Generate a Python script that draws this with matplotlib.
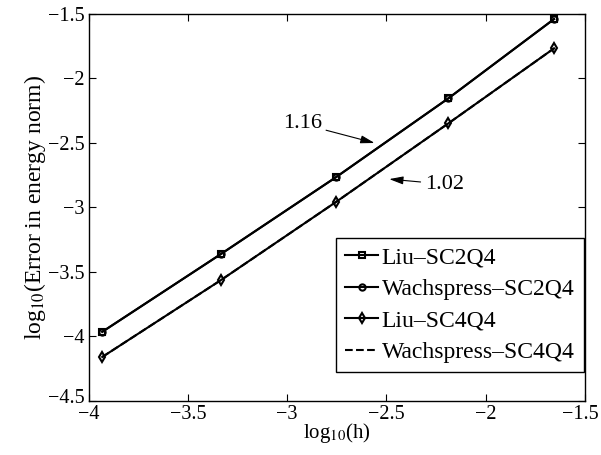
import matplotlib
matplotlib.use('Agg')
import matplotlib.pyplot as plt
import matplotlib.transforms as mtransforms
from matplotlib.ticker import FuncFormatter

plt.rcParams['font.family'] = ['Liberation Serif', 'DejaVu Serif']
plt.rcParams['mathtext.fontset'] = 'stix'

# log10(h)
log_h = [-3.931, -3.334, -2.753, -2.188, -1.656]

# log10(error in energy norm)
liu_sc2q4 = [-3.966, -3.364, -2.767, -2.157, -1.543]
wach_sc2q4 = [-3.966, -3.364, -2.767, -2.157, -1.543]
liu_sc4q4 = [-4.161, -3.566, -2.959, -2.351, -1.770]
wach_sc4q4 = [-4.161, -3.566, -2.959, -2.351, -1.770]

series_labels = ['Liu\u2013SC2Q4', 'Wachspress\u2013SC2Q4', 'Liu\u2013SC4Q4', 'Wachspress\u2013SC4Q4']
rates = ['1.16', '1.02']

fig = plt.figure(figsize=(6.01, 4.55), dpi=100)
ax = fig.add_axes([0.1474, 0.1193, 0.826, 0.851])

ax.plot(log_h, liu_sc2q4, 'k-s', lw=1.5, ms=4.5, mfc='none', mew=1.5, label=series_labels[0])
ax.plot(log_h, wach_sc2q4, 'k-o', lw=1.5, ms=4.5, mfc='none', mew=1.5, label=series_labels[1])
ax.plot(log_h, liu_sc4q4, 'k-d', lw=1.5, ms=5, mfc='none', mew=1.5, label=series_labels[2])
ax.plot(log_h, wach_sc4q4, 'k--', lw=1.5, label=series_labels[3])

ax.set_xlim(-4, -1.5)
ax.set_ylim(-4.5, -1.5)
ax.set_xticks([-4, -3.5, -3, -2.5, -2, -1.5])
ax.set_yticks([-4.5, -4, -3.5, -3, -2.5, -2, -1.5])
fmt = FuncFormatter(lambda v, p: ('%g' % v).replace('-', '\u2212'))
ax.xaxis.set_major_formatter(fmt)
ax.yaxis.set_major_formatter(fmt)
ax.tick_params(direction='in', top=True, right=True, length=5, width=0.8, labelsize=14.5, pad=3)
for s in ax.spines.values():
    s.set_linewidth(1.0)

# keep the last x tick label inside the figure
last = ax.get_xticklabels()[-1]
last.set_transform(last.get_transform() + mtransforms.ScaledTranslation(-5 / 100, 0, fig.dpi_scale_trans))
# lift the bottom y tick label off the x tick label in the corner
first = ax.get_yticklabels()[0]
first.set_transform(first.get_transform() + mtransforms.ScaledTranslation(0, 5 / 100, fig.dpi_scale_trans))

ax.set_xlabel(r'log$_{10}$(h)', fontsize=15, labelpad=-2)
ax.set_ylabel(r'log$_{10}$(Error in energy norm)', fontsize=17, labelpad=0)

# slope annotations
arrow = dict(arrowstyle='-|>,head_length=0.7,head_width=0.2', color='k', lw=0.8,
             shrinkA=1, shrinkB=0, mutation_scale=12)
ax.annotate(rates[0], xy=(-2.560, -2.503), xytext=(-2.923, -2.356),
            fontsize=16, ha='center', va='center', arrowprops=arrow)
ax.annotate(rates[1], xy=(-2.486, -2.783), xytext=(-2.209, -2.822),
            fontsize=16, ha='center', va='center', arrowprops=arrow)

leg = ax.legend(loc='lower right', bbox_to_anchor=(0.998, 0.0733), borderaxespad=0,
                fontsize=17, handlelength=1.4, handletextpad=0.15, labelspacing=0.42,
                borderpad=0.4, fancybox=False, framealpha=1, edgecolor='k')
leg.get_frame().set_linewidth(1.0)

fig.savefig('out.png', dpi=100)
